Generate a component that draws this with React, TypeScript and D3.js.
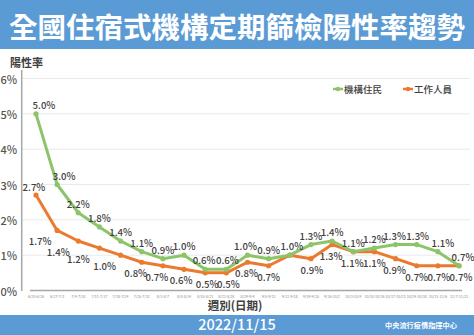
import React from "react";
import * as d3 from "d3";

const weeks = [
  "6/20-6/26", "6/27-7/3", "7/4-7/10", "7/11-7/17", "7/18-7/24", "7/25-7/31",
  "8/1-8/7", "8/8-8/14", "8/15-8/21", "8/22-8/28", "8/29-9/4", "9/5-9/11",
  "9/12-9/18", "9/19-9/25", "9/26-10/2", "10/3-10/9", "10/10-10/16",
  "10/17-10/23", "10/24-10/30", "10/31-11/6", "11/7-11/13",
];
const residents = [5.0, 3.0, 2.2, 1.8, 1.4, 1.1, 0.9, 1.0, 0.6, 0.6, 1.0, 0.9, 1.0, 1.3, 1.4, 1.1, 1.2, 1.3, 1.3, 1.1, 0.7];
const staff = [2.7, 1.7, 1.4, 1.2, 1.0, 0.8, 0.7, 0.6, 0.5, 0.5, 0.8, 0.7, 1.0, 0.9, 1.3, 1.1, 1.1, 0.9, 0.7, 0.7, 0.7];
const yTicks = [0, 1, 2, 3, 4, 5, 6];
const seriesNames = ["機構住民", "工作人員"];

// label layout tweaks (not data)
const residentLabelDx = [8, 7, 0, 0, 0, 0, 0, 0, -1, 1, -2, 0, 2, 0, 0, 0, 0, -1, 1, 5, 4];
const staffLabelDx = [-2, -17, -20, -21, -16, -6, -6, -3, 2, 2, -1, 0, 0, 1, -1, -1, 0, -1, 0, 1, 2];

const W = 474;
const H = 335;
const BLUE = "#5b9bd5";
const GREEN = "#8cc46a";
const ORANGE = "#eb7a2f";
const TXT = "#404040";
const FONT = "'Noto Sans CJK TC', 'Noto Sans', sans-serif";

export default function App() {
  const x = d3.scaleBand<string>().domain(weeks).range([25.4, 469.6]);
  const cx = (w: string) => (x(w) as number) + x.bandwidth() / 2;
  const y = d3.scaleLinear().domain([0, 6]).range([290.5, 78.5]);
  const line = d3
    .line<number>()
    .x((_, i) => cx(weeks[i]))
    .y((d) => y(d));
  const fmt = (v: number) => d3.format(".1f")(v) + "%";

  return (
    <svg
      width={W}
      height={H}
      style={{ position: "absolute", left: 0, top: 0, background: "#fff" }}
      fontFamily={FONT}
    >
      {/* title banner */}
      <rect x={0} y={0} width={W} height={49} fill={BLUE} />
      <text x={237} y={25} textAnchor="middle" dominantBaseline="central" fill="#fff" fontSize={28.5} fontWeight={700}>
        全國住宿式機構定期篩檢陽性率趨勢
      </text>

      {/* y axis title */}
      <text x={10} y={62} fontSize={11} fontWeight={700} fill={TXT} dominantBaseline="central">陽性率</text>

      {/* grid */}
      {yTicks.map((t) => (
        <g key={t}>
          {t > 0 && <line x1={22} x2={470} y1={y(t)} y2={y(t)} stroke="#e9e9e9" strokeWidth={1} />}
          <text x={17} y={y(t)} textAnchor="end" dominantBaseline="central" fontSize={11} fontWeight={500} fill="#555">
            {t + "%"}
          </text>
        </g>
      ))}
      <line x1={21.7} x2={21.7} y1={70} y2={291} stroke="#a6a6a6" strokeWidth={1.5} />
      <line x1={30} x2={462} y1={290.5} y2={290.5} stroke="#a6a6a6" strokeWidth={1.5} />

      {/* x tick labels */}
      {weeks.map((w) => (
        <text key={w} x={cx(w)} y={296} textAnchor="middle" dominantBaseline="central" fontSize={3.6} fill="#888">
          {w}
        </text>
      ))}
      <text x={235} y={305} textAnchor="middle" dominantBaseline="central" fontSize={11.5} fontWeight={700} fill={TXT}>
        週別(日期)
      </text>

      {/* lines */}
      <path d={line(staff) as string} fill="none" stroke={ORANGE} strokeWidth={3} strokeLinejoin="round" />
      <path d={line(residents) as string} fill="none" stroke={GREEN} strokeWidth={3} strokeLinejoin="round" />
      {staff.map((v, i) => (
        <circle key={"s" + i} cx={cx(weeks[i])} cy={y(v)} r={2.6} fill={ORANGE} />
      ))}
      {residents.map((v, i) => (
        <circle key={"r" + i} cx={cx(weeks[i])} cy={y(v)} r={2.6} fill={GREEN} />
      ))}

      {/* data labels */}
      {residents.map((v, i) => (
        <text key={"rl" + i} x={cx(weeks[i]) + residentLabelDx[i]} y={y(v) - 9} textAnchor="middle"
          dominantBaseline="central" fontSize={9.6} fontWeight={500} fill={TXT}>
          {fmt(v)}
        </text>
      ))}
      {staff.map((v, i) =>
        i === 12 ? null : (
          <text key={"sl" + i} x={cx(weeks[i]) + staffLabelDx[i]} y={i === 0 ? y(v) - 8 : y(v) + 11}
            textAnchor="middle" dominantBaseline="central" fontSize={9.6} fontWeight={500} fill={TXT}>
            {fmt(v)}
          </text>
        )
      )}

      {/* legend */}
      {[GREEN, ORANGE].map((c, k) => {
        const lx = 333 + k * 70;
        return (
          <g key={k}>
            <line x1={lx} x2={lx + 10} y1={89} y2={89} stroke={c} strokeWidth={2.5} />
            <circle cx={lx + 5} cy={89} r={2.2} fill={c} />
            <text x={lx + 11} y={89} dominantBaseline="central" fontSize={9.5} fontWeight={500} fill={TXT}>
              {seriesNames[k]}
            </text>
          </g>
        );
      })}

      {/* footer */}
      <rect x={0} y={315} width={W} height={20} fill={BLUE} />
      <text x={237} y={323} textAnchor="middle" dominantBaseline="central" fontSize={14.5} fill="#fff" fontWeight={500}>
        2022/11/15
      </text>
      <text x={421} y={325} textAnchor="middle" dominantBaseline="central" fontSize={7.2} fontWeight={700} fill="#fff">
        中央流行疫情指揮中心
      </text>
    </svg>
  );
}
